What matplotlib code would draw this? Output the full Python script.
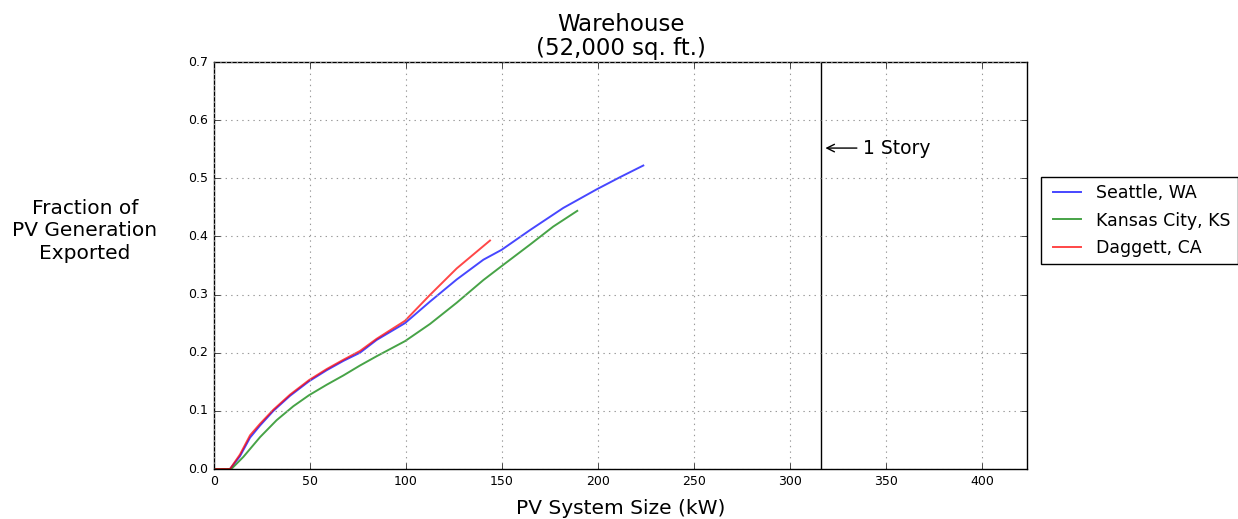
import matplotlib
matplotlib.use("Agg")
import matplotlib.pyplot as plt

# PV system size (kW) and fraction of PV generation exported
seattle_x = [0, 8.3, 13.5, 18.75, 24, 30.9, 39.6, 49.5, 58.7, 67.4, 76, 84.7, 99.5,
             112.5, 126.4, 140.3, 149.8, 164.6, 181.9, 199.3, 211.5, 223.6]
seattle_y = [0, 0, 0.022, 0.054, 0.075, 0.100, 0.126, 0.151, 0.170, 0.186, 0.200, 0.222, 0.251,
             0.288, 0.326, 0.360, 0.377, 0.411, 0.449, 0.481, 0.502, 0.522]

kansas_x = [0, 9, 15.3, 24, 32.6, 41.3, 49.5, 58.7, 67.4, 76, 84.7, 99.5,
            112.5, 126.4, 140.3, 149.8, 164.6, 176.7, 189.2]
kansas_y = [0, 0, 0.021, 0.055, 0.084, 0.108, 0.127, 0.145, 0.161, 0.178, 0.194, 0.220,
            0.2495, 0.286, 0.325, 0.349, 0.386, 0.417, 0.444]

daggett_x = [0, 8.3, 13.5, 18.75, 24, 30.9, 39.6, 49.5, 58.7, 67.4, 76, 84.7, 99.5,
             112.5, 126.4, 143.75]
daggett_y = [0, 0, 0.025, 0.058, 0.078, 0.102, 0.128, 0.153, 0.172, 0.188, 0.203, 0.224, 0.255,
             0.2995, 0.345, 0.393]

series_names = ["Seattle, WA", "Kansas City, KS", "Daggett, CA"]
series_colors = ["b", "g", "r"]

one_story_kw = 316
one_story_y = 0.552
one_story_label = "1 Story"
x_ticks = [0, 50, 100, 150, 200, 250, 300, 350, 400]
y_ticks = [0.0, 0.1, 0.2, 0.3, 0.4, 0.5, 0.6, 0.7]
y_tick_labels = ["0.0", "0.1", "0.2", "0.3", "0.4", "0.5", "0.6", "0.7"]

plt.style.use("classic")
plt.rcParams["font.family"] = ["DejaVu Sans"]

fig = plt.figure(figsize=(12.38, 5.19), dpi=100, facecolor="white")
ax = fig.add_axes([0.1729, 0.0963, 0.8296 - 0.1729, 0.8805 - 0.0963])
ax.set_facecolor("white")

for xs, ys, name, c in zip([seattle_x, kansas_x, daggett_x],
                           [seattle_y, kansas_y, daggett_y],
                           series_names, series_colors):
    ax.plot(xs, ys, color=c, lw=1.4, alpha=0.72, label=name)

ax.axvline(one_story_kw, color="black", lw=1.0)
ax.annotate(one_story_label, xy=(one_story_kw + 1, one_story_y), xytext=(338, one_story_y),
            ha="left", va="center", fontsize=13.5,
            arrowprops=dict(arrowstyle="->", color="black", lw=1.0))

ax.set_xlim(0, 423.5)
ax.set_ylim(0, 0.7)
ax.set_xticks(x_ticks)
ax.set_yticks(y_ticks)
ax.set_yticklabels(y_tick_labels)
ax.tick_params(labelsize=9)
ax.grid(True, color="#999999", linestyle=":", lw=0.8)

ax.set_title("Warehouse\n(52,000 sq. ft.)", fontsize=16.5, linespacing=1.05)
ax.set_xlabel("PV System Size (kW)", fontsize=14.5, labelpad=8)
ax.set_ylabel("Fraction of\nPV Generation\nExported", fontsize=14.5, rotation=0,
              ha="center", va="center", linespacing=1.26)
ax.yaxis.set_label_coords(-0.159, 0.585)

leg = ax.legend(loc="upper left", bbox_to_anchor=(1.017, 0.7174), fontsize=12.5,
                frameon=True, fancybox=False, borderpad=0.4, labelspacing=0.55,
                handlelength=2.2, handletextpad=0.6, borderaxespad=0)
leg.get_frame().set_edgecolor("black")

fig.savefig("out.png", dpi=100, facecolor="white")
